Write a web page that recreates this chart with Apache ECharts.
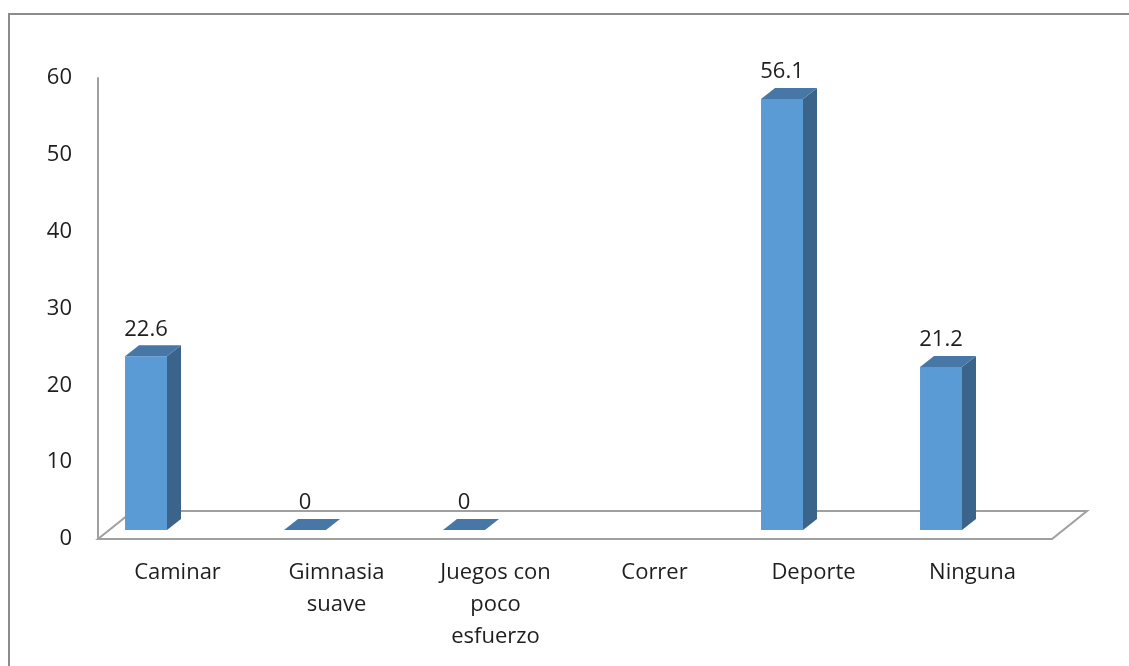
<!DOCTYPE html>
<html>
<head>
<meta charset="utf-8">
<script src="https://cdn.jsdelivr.net/npm/echarts@6/dist/echarts.min.js"></script>
<style>
  html, body { margin: 0; padding: 0; background: #fff; }
  #frame { position: absolute; left: 8px; top: 13px; width: 1200px; height: 700px;
           border-left: 2px solid #8c8c8c; border-top: 2px solid #8c8c8c; }
  #chart { position: absolute; left: 0; top: 0; width: 1129px; height: 666px; }
</style>
</head>
<body>
<div id="frame"></div>
<div id="chart"></div>
<script>
// Actividad física realizada (%)
const categories = ['Caminar', 'Gimnasia\nsuave', 'Juegos con\npoco\nesfuerzo', 'Correr', 'Deporte', 'Ninguna'];
const values = [22.6, 0, 0, null, 56.1, 21.2];
const yTicks = [0, 10, 20, 30, 40, 50, 60];

const FONT = '"Open Sans", Lato, sans-serif';
const FONT_SIZE = 22;
const TEXT = '#1e1e1e';
const FACE = '#5B9BD5';
const SIDE = '#3A648A';
const TOP = '#4677A6';
const FLOOR_LINE = '#A0A0A0';

// oblique depth of the floor and of each column
const FLOOR_DX = 35, FLOOR_DY = -28;
const COL_DX = 14, COL_DY = -11;
const COL_FRONT_DY = -9;       // column front sits a little behind the floor front edge
const COL_SHIFT = -0.198;      // horizontal shift of the column, as a share of the band
const COL_WIDTH = 0.264;       // column width as a share of the band

function renderFloor(params, api) {
  const cs = params.coordSys;
  const x0 = cs.x, x1 = cs.x + cs.width, y0 = cs.y + cs.height;
  return {
    type: 'polygon',
    shape: { points: [[x0, y0], [x1, y0], [x1 + FLOOR_DX, y0 + FLOOR_DY], [x0 + FLOOR_DX, y0 + FLOOR_DY]] },
    style: { stroke: FLOOR_LINE, lineWidth: 2, fill: null }
  };
}

function renderColumn(params, api) {
  const v = api.value(1);
  if (v === null || v === undefined || isNaN(v)) return;
  const i = api.value(0);
  const base = api.coord([i, 0]);
  const top = api.coord([i, v]);
  const band = api.size([1, 0])[0];
  const w = band * COL_WIDTH;
  const cx = base[0] + band * COL_SHIFT;
  const xl = cx - w / 2, xr = cx + w / 2;
  const yb = base[1] + COL_FRONT_DY;
  const yt = top[1] + COL_FRONT_DY;
  const children = [];
  if (yb - yt > 0.5) {
    children.push({ type: 'polygon', shape: { points: [[xl, yt], [xr, yt], [xr, yb], [xl, yb]] },
      style: { fill: FACE } });
    children.push({ type: 'polygon', shape: { points: [[xr, yt], [xr + COL_DX, yt + COL_DY], [xr + COL_DX, yb + COL_DY], [xr, yb]] },
      style: { fill: SIDE } });
  }
  children.push({ type: 'polygon', shape: { points: [[xl, yt], [xr, yt], [xr + COL_DX, yt + COL_DY], [xl + COL_DX, yt + COL_DY]] },
    style: { fill: TOP } });
  children.push({ type: 'text', x: cx, y: yt - 27,
    style: { text: String(v), fill: TEXT, font: FONT_SIZE + 'px ' + FONT, align: 'center', verticalAlign: 'middle' } });
  return { type: 'group', children: children };
}

const chart = echarts.init(document.getElementById('chart'), null, { renderer: 'canvas' });
chart.setOption({
  backgroundColor: 'transparent',
  animation: false,
  grid: { left: 98, right: 77, top: 78, bottom: 127 },
  xAxis: {
    type: 'category',
    data: categories,
    axisLine: { show: false },
    axisTick: { show: false },
    axisLabel: { interval: 0, margin: 18, color: TEXT, fontSize: FONT_SIZE, fontFamily: FONT, lineHeight: 32, align: 'center' }
  },
  yAxis: {
    type: 'value',
    min: yTicks[0],
    max: yTicks[yTicks.length - 1],
    interval: yTicks[1] - yTicks[0],
    splitLine: { show: false },
    axisTick: { show: false },
    axisLine: { show: true, lineStyle: { color: FLOOR_LINE, width: 2 } },
    axisLabel: { margin: 26, color: TEXT, fontSize: FONT_SIZE, fontFamily: FONT }
  },
  series: [
    {
      type: 'custom',
      renderItem: renderFloor,
      data: [[0, 0]],
      z: 1,
      silent: true
    },
    {
      type: 'custom',
      renderItem: renderColumn,
      data: values.map((v, i) => [i, v]),
      encode: { x: 0, y: 1 },
      z: 2
    }
  ]
});
</script>
</body>
</html>
